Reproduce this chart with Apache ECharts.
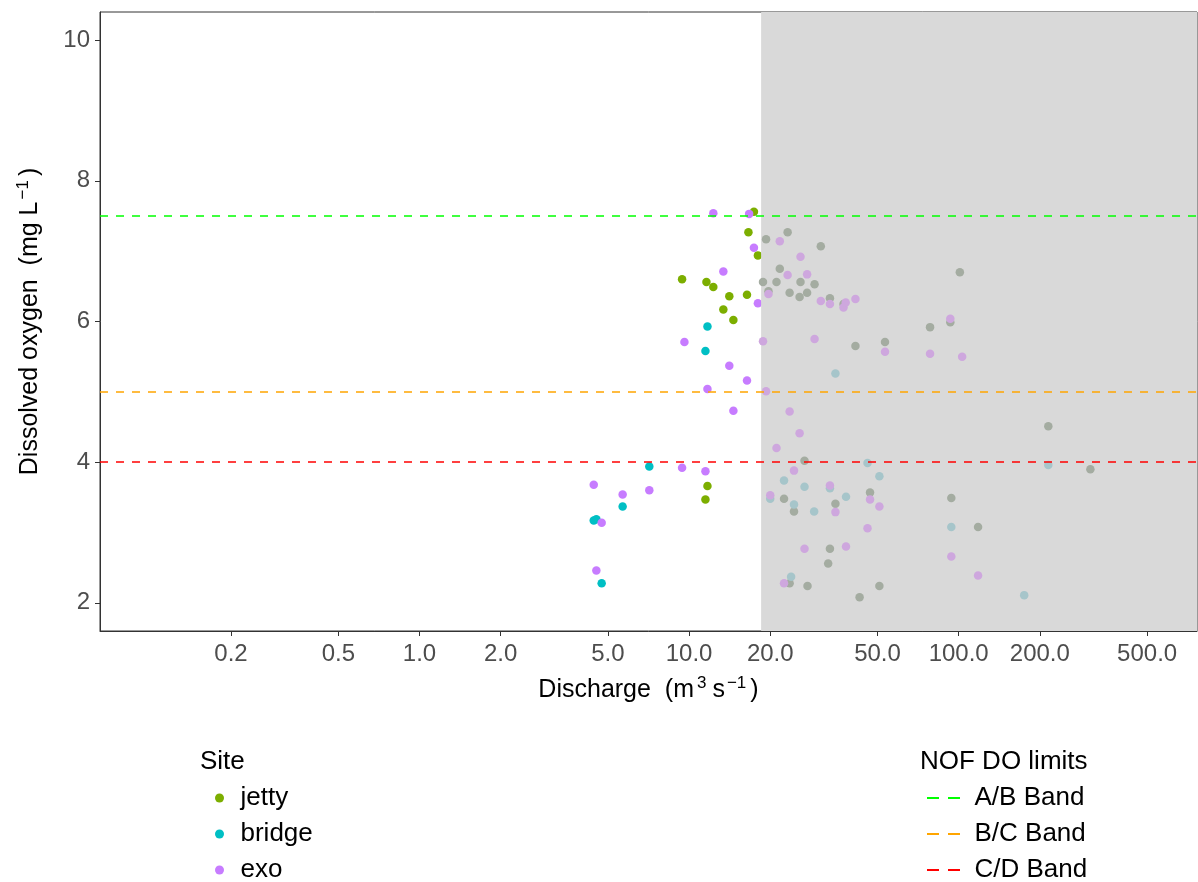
<!DOCTYPE html>
<html>
<head>
<meta charset="utf-8">
<script src="https://cdn.jsdelivr.net/npm/echarts@6/dist/echarts.min.js"></script>
<style>
  html, body { margin: 0; padding: 0; background: #fff; }
  #chart { width: 1198px; height: 882px; }
</style>
</head>
<body>
<div id="chart"></div>
<script>
// discharge (m3 s-1) and dissolved oxygen (mg L-1) per site
var jettyQ = [17.4, 16.6, 18.0, 9.42, 11.6, 12.3, 14.1, 16.4, 18.8, 13.4, 14.6, 11.7, 11.5, 19.3, 23.2, 30.8, 21.7, 21.1, 25.9, 29.2, 19.7, 23.6, 25.7, 27.4, 33.3, 37.4, 101, 41.4, 53.3, 78.3, 93.1, 215, 26.8, 22.5, 46.9, 24.5, 34.9, 93.9, 308, 118, 33.3, 32.8, 23.6, 27.5, 50.8, 42.9]
var jettyDO = [7.56, 7.27, 6.94, 6.60, 6.56, 6.49, 6.36, 6.38, 6.56, 6.17, 6.02, 3.66, 3.47, 7.17, 7.27, 7.07, 6.75, 6.56, 6.56, 6.53, 6.43, 6.41, 6.35, 6.41, 6.33, 6.25, 6.70, 5.65, 5.71, 5.92, 5.99, 4.51, 4.02, 3.48, 3.57, 3.30, 3.41, 3.49, 3.90, 3.08, 2.77, 2.56, 2.28, 2.24, 2.24, 2.08]

var bridgeQ = [11.7, 11.5, 7.12, 5.67, 4.43, 4.53, 4.74, 34.9, 45.9, 22.5, 50.8, 26.8, 33.3, 20.0, 38.2, 24.5, 29.1, 93.9, 23.9, 215, 175]
var bridgeDO = [5.93, 5.58, 3.94, 3.37, 3.17, 3.19, 2.28, 5.26, 3.99, 3.74, 3.80, 3.65, 3.63, 3.48, 3.51, 3.40, 3.30, 3.08, 2.37, 3.96, 2.11]

var exoQ = [12.3, 16.7, 17.4, 13.4, 18.0, 9.61, 18.8, 14.1, 16.4, 11.7, 19.3, 14.6, 9.42, 11.5, 4.43, 5.67, 7.12, 4.74, 4.53, 21.7, 25.9, 23.2, 27.4, 19.7, 30.8, 33.3, 37.4, 38.1, 41.4, 29.2, 53.3, 93.1, 78.3, 103, 23.6, 25.7, 21.1, 24.5, 33.3, 20.0, 46.9, 34.9, 50.8, 45.9, 26.8, 38.2, 93.9, 118, 22.5]
var exoDO = [7.54, 7.53, 7.05, 6.71, 6.26, 5.71, 5.72, 5.37, 5.16, 5.04, 5.01, 4.73, 3.92, 3.87, 3.68, 3.54, 3.60, 3.14, 2.46, 7.14, 6.92, 6.66, 6.67, 6.39, 6.29, 6.25, 6.20, 6.27, 6.32, 5.75, 5.57, 6.04, 5.54, 5.50, 4.72, 4.41, 4.20, 3.88, 3.67, 3.53, 3.47, 3.29, 3.37, 3.06, 2.77, 2.80, 2.66, 2.39, 2.28]

var siteNames = ['jetty', 'bridge', 'exo']
var siteColors = ['#7CAE00', '#00BFC4', '#C77CFF']
// same sites seen through the shaded high-flow area
var siteFaded = ['#A4ACA1', '#A6C5CA', '#CEA7DE']

// NOF DO band limits
var bandNames = ['A/B Band', 'B/C Band', 'C/D Band']
var bandValues = [7.5, 5, 4]
var bandColors = ['#00FF00', '#FFA500', '#FF0000']

var xTicks = [0.2, 0.5, 1, 2, 5, 10, 20, 50, 100, 200, 500]
var yTicks = [2, 4, 6, 8, 10]
var xLimits = [0.1, 500]
var yLimits = [2, 10]
var highFlowStart = 18.5

var FONT = 'Liberation Sans, Arial, sans-serif'

// x axis is log10 of discharge, limits expanded 5% like ggplot
var lg = Math.log10
var xSpan = lg(xLimits[1]) - lg(xLimits[0])
var xMin = lg(xLimits[0]) - 0.05 * xSpan
var xMax = lg(xLimits[1]) + 0.05 * xSpan
var ySpan = yLimits[1] - yLimits[0]
var yMin = yLimits[0] - 0.05 * ySpan
var yMax = yLimits[1] + 0.05 * ySpan

function toPoints(q, d, shaded) {
  var out = []
  for (var i = 0; i < q.length; i++) {
    if ((q[i] >= highFlowStart) === shaded) out.push([lg(q[i]), d[i]])
  }
  return out
}

var siteQ = [jettyQ, bridgeQ, exoQ]
var siteDO = [jettyDO, bridgeDO, exoDO]

var series = []
for (var i = 0; i < siteNames.length; i++) {
  series.push({
    name: siteNames[i],
    type: 'scatter',
    data: toPoints(siteQ[i], siteDO[i], false),
    symbolSize: 8.5,
    z: 2,
    itemStyle: { color: siteColors[i], opacity: 1 }
  })
}
for (var i = 0; i < siteNames.length; i++) {
  series.push({
    type: 'scatter',
    data: toPoints(siteQ[i], siteDO[i], true),
    symbolSize: 8.5,
    z: 4,
    itemStyle: { color: siteFaded[i], opacity: 1 }
  })
}

// shaded high-flow area
series.push({
  type: 'scatter',
  data: [],
  silent: true,
  markArea: {
    silent: true,
    z: 3,
    itemStyle: { color: '#D9D9D9' },
    data: [[{ xAxis: lg(highFlowStart) }, { xAxis: xMax }]]
  }
})

for (var j = 0; j < bandNames.length; j++) {
  var ls = { color: bandColors[j], width: 1.7, type: [8, 8] }
  series.push({
    name: bandNames[j],
    type: 'line',
    data: [],
    symbol: 'none',
    z: 5,
    itemStyle: { color: bandColors[j] },
    lineStyle: ls,
    markLine: {
      silent: true,
      symbol: 'none',
      z: 5,
      label: { show: false },
      lineStyle: ls,
      data: [{ yAxis: bandValues[j] }]
    }
  })
}

var xTickPos = xTicks.map(function (v) { return lg(v) })

var legendText = { fontSize: 26, lineHeight: 26, color: '#000', fontFamily: FONT }
var titleText = { fontSize: 26, fontWeight: 'normal', color: '#000', fontFamily: FONT }
var nameRich = {
  t: { fontSize: 25, lineHeight: 30, color: '#000', fontFamily: FONT },
  s1: { fontSize: 17, lineHeight: 14, verticalAlign: 'top', padding: [0, 6, 0, 3], color: '#000', fontFamily: FONT },
  s2: { fontSize: 17, lineHeight: 14, verticalAlign: 'top', padding: [0, 4, 0, 2], color: '#000', fontFamily: FONT }
}

var chart = echarts.init(document.getElementById('chart'))
chart.setOption({
  animation: false,
  textStyle: { fontFamily: FONT },
  title: [
    { text: 'Site', left: 200, top: 749, padding: 0, textStyle: titleText },
    { text: 'NOF DO limits', left: 920, top: 749, padding: 0, textStyle: titleText }
  ],
  legend: [
    {
      data: siteNames,
      orient: 'vertical',
      left: 215,
      top: 785,
      height: 130,
      padding: 0,
      icon: 'circle',
      itemWidth: 32,
      itemHeight: 9,
      itemGap: 10,
      selectedMode: false,
      textStyle: legendText
    },
    {
      data: bandNames,
      orient: 'vertical',
      left: 927,
      top: 785,
      height: 130,
      padding: 0,
      icon: 'path://M0,0H12V2H0Z M21,0H33V2H21Z',
      itemWidth: 52,
      itemHeight: 2,
      itemGap: 10,
      itemStyle: { borderWidth: 0 },
      selectedMode: false,
      textStyle: legendText
    }
  ],
  grid: {
    left: 100,
    right: 1,
    top: 12,
    bottom: 251,
    show: true,
    borderColor: '#333',
    borderWidth: 1,
    backgroundColor: 'transparent'
  },
  xAxis: {
    type: 'value',
    min: xMin,
    max: xMax,
    name: '{t|Discharge  (m}{s1|3}{t|s}{s2|\u22121}{t|)}',
    nameLocation: 'middle',
    nameGap: 44,
    nameTextStyle: { rich: nameRich },
    splitLine: { show: false },
    axisLine: { show: true, onZero: false, lineStyle: { color: '#333', width: 1 } },
    axisTick: { show: true, length: 5, lineStyle: { color: '#333' }, customValues: xTickPos },
    axisLabel: {
      customValues: xTickPos,
      margin: 11,
      fontSize: 24,
      color: '#4D4D4D',
      fontFamily: FONT,
      formatter: function (v) { return Math.pow(10, v).toFixed(1) }
    }
  },
  yAxis: {
    type: 'value',
    min: yMin,
    max: yMax,
    name: '{t|Dissolved oxygen  (mg L}{s2|\u22121}{t|)}',
    nameLocation: 'middle',
    nameRotate: 90,
    nameGap: 55,
    nameTextStyle: { rich: nameRich },
    splitLine: { show: false },
    axisLine: { show: true, onZero: false, lineStyle: { color: '#333', width: 1 } },
    axisTick: { show: true, length: 5, lineStyle: { color: '#333' }, customValues: yTicks },
    axisLabel: {
      customValues: yTicks,
      margin: 10,
      fontSize: 24,
      color: '#4D4D4D',
      fontFamily: FONT
    }
  },
  series: series
})
</script>
</body>
</html>
